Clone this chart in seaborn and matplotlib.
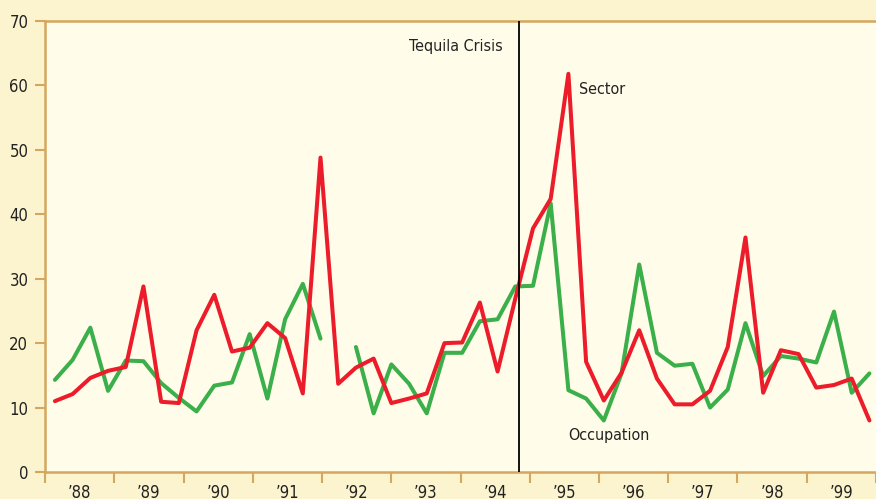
import numpy as np
import pandas as pd
import matplotlib
matplotlib.use("Agg")
import matplotlib.pyplot as plt
import seaborn as sns

# =============================================
# DATA (quarterly observations, read off the chart)
# =============================================
sector = [11.0, 12.1, 14.6, 15.7, 16.3, 28.8, 10.9, 10.7, 22.0, 27.5,
          18.7, 19.3, 23.1, 20.8, 12.2, 48.8, 13.7, 16.2, 17.6, 10.7,
          11.4, 12.2, 20.0, 20.1, 26.3, 15.6, 26.9, 37.8, 42.4, 61.8,
          17.1, 11.1, 15.4, 22.0, 14.5, 10.5, 10.5, 12.6, 19.4, 36.4,
          12.3, 18.9, 18.3, 13.1, 13.5, 14.5, 8.0]
occupation = [14.3, 17.4, 22.4, 12.6, 17.3, 17.2, 13.8, 11.5, 9.4, 13.4,
              13.9, 21.4, 11.4, 23.7, 29.2, 20.7, np.nan, 19.4, 9.1, 16.7,
              13.7, 9.1, 18.5, 18.5, 23.4, 23.7, 28.8, 28.9, 41.7, 12.7,
              11.4, 8.0, 15.3, 32.2, 18.5, 16.5, 16.8, 10.0, 12.8, 23.1,
              14.9, 18.0, 17.6, 17.0, 24.9, 12.3, 15.3]
years = ["\u201988", "\u201989", "\u201990", "\u201991", "\u201992", "\u201993",
         "\u201994", "\u201995", "\u201996", "\u201997", "\u201998", "\u201999"]
y_ticks = [0, 10, 20, 30, 40, 50, 60, 70]
crisis_label = "Tequila Crisis"
crisis_pos = 26.2          # in observation-index units

# axis layout (index units): first year boundary and width of one year
year_start = -0.56
year_width = 3.911

RED = "#EC1C2A"
GREEN = "#3BAF4A"
TAN = "#D4A65E"
OUTER = "#FCF4CF"
INNER = "#FFFDEA"
INK = "#222222"

# =============================================
# BUILD TABLE
# =============================================
idx = np.arange(len(sector))
df_s = pd.DataFrame({"idx": idx, "value": sector, "series": "Sector"})
df_s["seg"] = 0
df_o = pd.DataFrame({"idx": idx, "value": occupation, "series": "Occupation"})
df_o["seg"] = 1 + df_o["value"].isna().cumsum()
df = pd.concat([df_s, df_o]).dropna()

# =============================================
# PLOT
# =============================================
sns.set_style("white")
plt.rcParams["font.family"] = ["DejaVu Sans"]
plt.rcParams["font.stretch"] = "condensed"

fig = plt.figure(figsize=(8.76, 4.99), dpi=100, facecolor=OUTER)
ax = fig.add_axes([45 / 876, 27 / 499, 1 - 45 / 876, 451 / 499])
ax.set_facecolor(INNER)

sns.lineplot(data=df, x="idx", y="value", hue="series", units="seg",
             estimator=None, palette={"Sector": RED, "Occupation": GREEN},
             hue_order=["Occupation", "Sector"], linewidth=2.9,
             legend=False, ax=ax)

ax.axvline(crisis_pos, color="black", linewidth=1.3, zorder=5)

ax.set_xlim(year_start, (876 - 55) / 17.82)
ax.set_ylim(0, 70)
ax.set_xlabel("")
ax.set_ylabel("")

# y axis
ax.set_yticks(y_ticks)
ax.tick_params(axis="y", direction="out", length=7, width=1.5, color=TAN,
               labelsize=12, labelcolor=INK, pad=5, left=True)

# x axis: boundaries as minor ticks, year labels centred between them
bounds = [year_start + year_width * k for k in range(len(years) + 1)]
centres = [year_start + year_width * (k + 0.5) for k in range(len(years))]
ax.set_xticks(bounds, minor=True)
ax.set_xticks(centres)
ax.set_xticklabels(years)
ax.tick_params(axis="x", which="minor", direction="out", length=8,
               width=1.5, color=TAN, bottom=True)
ax.tick_params(axis="x", which="major", length=0, labelsize=12,
               labelcolor=INK, pad=9)

for side in ["left", "bottom", "top"]:
    ax.spines[side].set_color(TAN)
    ax.spines[side].set_linewidth(1.8)
ax.spines["right"].set_visible(False)

# annotations
ax.text(crisis_pos - 0.9, 66.1, crisis_label, ha="right", va="center",
        fontsize=11.5, color=INK)
ax.text(29.6, 59.3, "Sector", ha="left", va="center", fontsize=11.5,
        color=INK)
ax.text(29.0, 5.6, "Occupation", ha="left", va="center", fontsize=11.5,
        color=INK)

fig.savefig("out.png", dpi=100, facecolor=OUTER)
